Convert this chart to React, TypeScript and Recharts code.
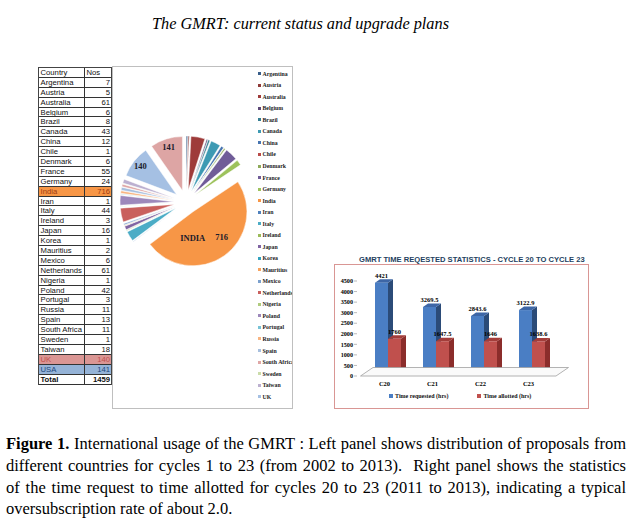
import React from 'react';
import {
  PieChart, Pie, Cell, Legend, Sector,
  BarChart, Bar, XAxis, YAxis, LabelList, ReferenceLine,
} from 'recharts';

const SERIF = '"Liberation Serif", "Times New Roman", serif';
const SANS = '"Liberation Sans", Arial, sans-serif';

// ---------- data: proposals per country (cycles 1-23) ----------
const countries = [
  'Argentina', 'Austria', 'Australia', 'Belgium', 'Brazil', 'Canada', 'China', 'Chile',
  'Denmark', 'France', 'Germany', 'India', 'Iran', 'Italy', 'Ireland', 'Japan', 'Korea',
  'Mauritius', 'Mexico', 'Netherlands', 'Nigeria', 'Poland', 'Portugal', 'Russia', 'Spain',
  'South Africa', 'Sweden', 'Taiwan', 'UK', 'USA',
];
const proposals = [
  7, 5, 61, 6, 8, 43, 12, 1, 6, 55, 24, 716, 1, 44, 3, 16, 1, 2, 6, 61, 1, 42, 3, 11, 13, 11, 1, 18, 140, 141,
];
const totalProposals = 1459;
const sliceColors = [
  '#385D8A', '#8E3A38', '#9E3B3A', '#5C4776', '#357D91', '#3D9AB3', '#4674B0', '#B94A48',
  '#8EAA5A', '#705C98', '#9DC25C', '#F79646', '#4F81BD', '#4BACC6', '#9BBB59', '#8064A2',
  '#31A2BE', '#F6A35F', '#7BA0CD', '#C9605D', '#AFCB7D', '#9D88BB', '#78C3D6', '#F8B582',
  '#A7BFDE', '#DFA7A6', '#CBDCAA', '#BCB0D0', '#A5C0E3', '#DDA5A4',
];
const highlightRows: Record<string, { bg: string; fg: string }> = {
  India: { bg: '#F79646', fg: '#9C3A12' },
  UK: { bg: '#DA9694', fg: '#C0504D' },
  USA: { bg: '#95B3D7', fg: '#1F497D' },
};

// ---------- data: time requested vs allotted ----------
const cycles = ['C20', 'C21', 'C22', 'C23'];
const timeRequested = [4421, 3269.5, 2843.6, 3122.9];
const timeAllotted = [1760, 1647.5, 1646, 1638.6];
const yTicks = [0, 500, 1000, 1500, 2000, 2500, 3000, 3500, 4000, 4500];
const seriesNames = ['Time requested (hrs)', 'Time allotted (hrs)'];
const seriesFront = ['#4A7EC4', '#C0504D'];
const seriesSide = ['#2B4B78', '#8B2D2B'];
const seriesTop = ['#3D66A6', '#A33D3A'];

const pieData = countries.map((name, i) => ({ name, value: proposals[i] }));
const barData = cycles.map((cycle, i) => ({
  cycle,
  requested: timeRequested[i],
  allotted: timeAllotted[i],
}));

// ---------- pie helpers ----------
const RAD = Math.PI / 180;
const EXPLODE = 12;
const polarShift = (angle: number, r: number) => ({
  dx: Math.cos(-angle * RAD) * r,
  dy: Math.sin(-angle * RAD) * r,
});

function ExplodedSector(props: any) {
  const { cx, cy, midAngle } = props;
  const { dx, dy } = polarShift(midAngle, EXPLODE);
  return <Sector {...props} cx={cx + dx} cy={cy + dy} />;
}

function PieLabel(props: any) {
  const { cx, cy, midAngle, outerRadius, name, value } = props;
  const style = { fontFamily: SERIF, fontWeight: 700, fontSize: 8.5, fill: '#1b1b2b' } as const;
  if (name === 'India') {
    const { dx, dy } = polarShift(midAngle, outerRadius * 0.52 + EXPLODE);
    return (
      <g>
        <text x={cx + dx - 4} y={cy + dy + 3} textAnchor="end" dominantBaseline="central" style={style}>
          INDIA
        </text>
        <text x={cx + dx + 6} y={cy + dy + 2} textAnchor="start" dominantBaseline="central" style={style}>
          {value}
        </text>
      </g>
    );
  }
  if (name === 'UK' || name === 'USA') {
    const { dx, dy } = polarShift(midAngle, outerRadius * 0.85 + EXPLODE);
    return (
      <text x={cx + dx} y={cy + dy} textAnchor="middle" dominantBaseline="central" style={style}>
        {value}
      </text>
    );
  }
  return null;
}

function PieLegendContent(props: any) {
  const { payload = [] } = props;
  return (
    <div style={{ fontFamily: SERIF, fontWeight: 700, fontSize: 5.8, color: '#222' }}>
      {payload.map((p: any, i: number) => (
        <div
          key={i}
          style={{ height: 11.54, display: 'flex', alignItems: 'center', whiteSpace: 'nowrap' }}
        >
          <span
            style={{ display: 'inline-block', width: 3, height: 3, background: p.color, marginRight: 1.5, flex: 'none' }}
          />
          <span>{p.value}</span>
        </div>
      ))}
    </div>
  );
}

// ---------- bar helpers ----------
function make3DBar(front: string, side: string, top: string) {
  return (props: any) => {
    const { x, y, width, height } = props;
    if (x == null || y == null || !width || height == null) return <g />;
    const d = 5;
    const e = 3.5;
    return (
      <g>
        <polygon
          points={`${x + width},${y} ${x + width + d},${y - e} ${x + width + d},${y + height - e} ${x + width},${y + height}`}
          fill={side}
        />
        <polygon
          points={`${x},${y} ${x + d},${y - e} ${x + width + d},${y - e} ${x + width},${y}`}
          fill={top}
        />
        <rect x={x} y={y} width={width} height={height} fill={front} />
      </g>
    );
  };
}

function Floor(props: any) {
  const { x1, y1, x2 } = props;
  if (x1 == null) return <g />;
  const pts = [
    [x1 + 3.5, y1],
    [x2, y1],
    [x2 + 12.5, y1 - 8.5],
    [x1 + 16, y1 - 8.5],
  ]
    .map((p) => p.join(','))
    .join(' ');
  return <polygon points={pts} fill="#FAFAFA" stroke="#A0A0A0" strokeWidth={0.8} />;
}

function BarLegendContent() {
  return (
    <div
      style={{
        display: 'flex',
        fontFamily: SERIF,
        fontWeight: 700,
        fontSize: 6,
        color: '#111',
        paddingLeft: 54,
        whiteSpace: 'nowrap',
      }}
    >
      {seriesNames.map((n, i) => (
        <div key={n} style={{ display: 'flex', alignItems: 'center', marginRight: i === 0 ? 29 : 0 }}>
          <span style={{ display: 'inline-block', width: 3.5, height: 3.5, background: seriesFront[i], marginRight: 2.5 }} />
          <span>{n}</span>
        </div>
      ))}
    </div>
  );
}

const barLabelStyle = { fontFamily: SERIF, fontWeight: 700, fontSize: 6.5, fill: '#000' } as const;
const axisTick = { fontFamily: SERIF, fontWeight: 700, fontSize: 6.2, fill: '#000' } as const;

// ---------- table ----------
const ROW_H = 9.9;
function CountryTable() {
  const rows = [
    { name: 'Country', nos: 'Nos', header: true },
    ...countries.map((c, i) => ({ name: c, nos: String(proposals[i]), header: false })),
    { name: 'Total', nos: String(totalProposals), header: false },
  ];
  return (
    <div
      style={{
        position: 'absolute',
        left: 38,
        top: 67,
        width: 74,
        fontFamily: SANS,
        fontSize: 7.7,
        borderTop: '1px solid #444',
        borderLeft: '1px solid #444',
        borderRight: '1px solid #444',
        boxSizing: 'border-box',
        background: '#fff',
      }}
    >
      {rows.map((r, i) => {
        const hl = highlightRows[r.name];
        const isTotal = r.name === 'Total';
        return (
          <div
            key={i}
            style={{
              display: 'flex',
              height: ROW_H,
              boxSizing: 'border-box',
              borderBottom: '0.8px solid #333',
              background: hl ? hl.bg : '#fff',
              color: hl ? hl.fg : '#111',
              fontWeight: isTotal ? 700 : 400,
              lineHeight: `${ROW_H}px`,
            }}
          >
            <div style={{ width: 46, borderRight: '0.8px solid #333', paddingLeft: 1.5, boxSizing: 'border-box', overflow: 'hidden', whiteSpace: 'nowrap' }}>
              {r.name}
            </div>
            <div style={{ flex: 1, textAlign: r.header ? 'left' : 'right', paddingLeft: r.header ? 1.5 : 0, paddingRight: 1 }}>
              {r.nos}
            </div>
          </div>
        );
      })}
    </div>
  );
}

const captionLine: React.CSSProperties = {
  textAlign: 'justify',
  textAlignLast: 'justify',
  whiteSpace: 'nowrap',
  height: 21.8,
};

export default function App() {
  return (
    <div
      style={{
        position: 'absolute',
        left: 0,
        top: 0,
        width: 637,
        height: 525,
        background: '#fff',
        overflow: 'hidden',
        fontFamily: SERIF,
        color: '#000',
      }}
    >
      {/* running title */}
      <div
        style={{
          position: 'absolute',
          left: 152,
          top: 16,
          fontStyle: 'italic',
          fontSize: 16.3,
          lineHeight: '16px',
          whiteSpace: 'nowrap',
        }}
      >
        The GMRT: current status and upgrade plans
      </div>

      <CountryTable />

      {/* pie panel */}
      <div
        style={{
          position: 'absolute',
          left: 112,
          top: 66,
          width: 181,
          height: 343,
          border: '1px solid #BFBFBF',
          boxSizing: 'border-box',
          overflow: 'hidden',
        }}
      >
        <PieChart width={179} height={341} margin={{ top: 0, right: 0, bottom: 0, left: 0 }}>
          <Pie
            data={pieData}
            dataKey="value"
            nameKey="name"
            cx={73}
            cy={135}
            outerRadius={54}
            startAngle={90}
            endAngle={-270}
            stroke="#fff"
            strokeWidth={0.5}
            isAnimationActive={false}
            labelLine={false}
            label={PieLabel}
            shape={ExplodedSector}
            activeShape={ExplodedSector}
            inactiveShape={ExplodedSector}
          >
            {pieData.map((d, i) => (
              <Cell key={d.name} fill={sliceColors[i]} />
            ))}
          </Pie>
          <Legend
            layout="vertical"
            align="center"
            verticalAlign="middle"
            content={PieLegendContent}
            itemSorter={(item: any) => countries.indexOf(item.value)}
            wrapperStyle={{ left: 145, top: 1, width: 34, height: 335, overflow: 'hidden' }}
          />
        </PieChart>
      </div>

      {/* bar panel */}
      <div
        style={{
          position: 'absolute',
          left: 359,
          top: 255,
          fontFamily: SANS,
          fontWeight: 700,
          fontSize: 7.6,
          lineHeight: '9px',
          color: '#243F60',
          whiteSpace: 'nowrap',
        }}
      >
        GMRT TIME REQESTED STATISTICS - CYCLE 20 TO CYCLE 23
      </div>
      <div
        style={{
          position: 'absolute',
          left: 334,
          top: 264,
          width: 255,
          height: 145,
          border: '1px solid #D99694',
          boxSizing: 'border-box',
        }}
      />
      <div style={{ position: 'absolute', left: 335, top: 265 }}>
        <BarChart
          width={253}
          height={143}
          data={barData}
          margin={{ top: 16, right: 32, bottom: 18, left: 0 }}
          barGap={0}
          barCategoryGap={11}
        >
          <XAxis
            dataKey="cycle"
            axisLine={false}
            tickLine={false}
            tickSize={2}
            tickMargin={3}
            height={14}
            padding={{ left: 7, right: 0 }}
            tick={{ ...axisTick, fontSize: 6.5, dx: -3.5 }}
          />
          <YAxis
            width={22}
            domain={[0, 4500]}
            ticks={yTicks}
            interval={0}
            axisLine={false}
            tickLine={{ stroke: '#8C8C8C', strokeWidth: 0.6 }}
            tickSize={3}
            tickMargin={1}
            tick={axisTick}
          />
          <ReferenceLine y={0} shape={Floor} />
          <Bar
            dataKey="requested"
            name={seriesNames[0]}
            fill={seriesFront[0]}
            shape={make3DBar(seriesFront[0], seriesSide[0], seriesTop[0])}
            isAnimationActive={false}
          >
            <LabelList dataKey="requested" position="top" offset={5} style={barLabelStyle} />
          </Bar>
          <Bar
            dataKey="allotted"
            name={seriesNames[1]}
            fill={seriesFront[1]}
            shape={make3DBar(seriesFront[1], seriesSide[1], seriesTop[1])}
            isAnimationActive={false}
          >
            <LabelList dataKey="allotted" position="top" offset={5} style={barLabelStyle} />
          </Bar>
          <Legend
            layout="horizontal"
            align="center"
            verticalAlign="middle"
            content={BarLegendContent}
            wrapperStyle={{ left: 0, top: 128, width: 253 }}
          />
        </BarChart>
      </div>

      {/* caption */}
      <div
        style={{
          position: 'absolute',
          left: 6,
          top: 433,
          width: 620,
          fontSize: 16.5,
          lineHeight: '21.8px',
        }}
      >
        <div style={captionLine}>
          <b>Figure 1.</b> International usage of the GMRT : Left panel shows distribution of proposals from
        </div>
        <div style={captionLine}>
          different countries for cycles 1 to 23 (from 2002 to 2013).&nbsp; Right panel shows the statistics
        </div>
        <div style={captionLine}>
          of the time request to time allotted for cycles 20 to 23 (2011 to 2013), indicating a typical
        </div>
        <div style={{ whiteSpace: 'nowrap', height: 21.8 }}>oversubscription rate of about 2.0.</div>
      </div>
    </div>
  );
}
